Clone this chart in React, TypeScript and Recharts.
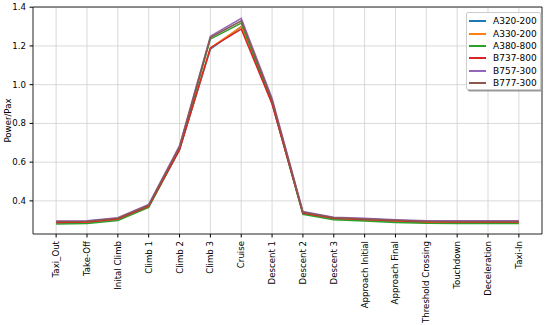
import { CartesianGrid, Line, LineChart, ReferenceArea, XAxis, YAxis } from "recharts"

const phases = [
  "Taxi_Out",
  "Take-Off",
  "Inital Climb",
  "Climb 1",
  "Climb 2",
  "Climb 3",
  "Cruise",
  "Descent 1",
  "Descent 2",
  "Descent 3",
  "Approach Initial",
  "Approach Final",
  "Threshold Crossing",
  "Touchdown",
  "Deceleration",
  "Taxi-In",
]

const a320 = [0.287, 0.289, 0.304, 0.372, 0.665, 1.183, 1.3, 0.905, 0.335, 0.307, 0.301, 0.294, 0.289, 0.288, 0.288, 0.288]
const a330 = [0.287, 0.289, 0.305, 0.373, 0.668, 1.19, 1.3, 0.91, 0.336, 0.308, 0.302, 0.295, 0.29, 0.289, 0.289, 0.289]
const a380 = [0.281, 0.283, 0.298, 0.366, 0.665, 1.235, 1.318, 0.905, 0.33, 0.302, 0.296, 0.289, 0.284, 0.283, 0.283, 0.283]
const b737 = [0.289, 0.291, 0.306, 0.373, 0.663, 1.19, 1.287, 0.9, 0.337, 0.31, 0.304, 0.297, 0.292, 0.291, 0.291, 0.291]
const b757 = [0.296, 0.298, 0.313, 0.382, 0.685, 1.25, 1.343, 0.93, 0.345, 0.316, 0.31, 0.303, 0.298, 0.297, 0.297, 0.297]
const b777 = [0.293, 0.295, 0.31, 0.378, 0.678, 1.243, 1.33, 0.92, 0.342, 0.313, 0.307, 0.3, 0.295, 0.294, 0.294, 0.294]

const yTicks = [0.4, 0.6, 0.8, 1.0, 1.2, 1.4]

const series = [
  { name: "A320-200", values: a320, color: "#1f77b4" },
  { name: "A330-200", values: a330, color: "#ff7f0e" },
  { name: "A380-800", values: a380, color: "#2ca02c" },
  { name: "B737-800", values: b737, color: "#d62728" },
  { name: "B757-300", values: b757, color: "#9467bd" },
  { name: "B777-300", values: b777, color: "#8c564b" },
]

const font = "DejaVu Sans, sans-serif"
const fs = 8.6

const chartData = phases.map((phase, i) => {
  const row: Record<string, number | string> = { idx: i, phase }
  series.forEach((s) => {
    row[s.name] = s.values[i]
  })
  return row
})

function PhaseTick(props: any) {
  const { x, y, payload } = props
  return (
    <text
      x={x}
      y={y}
      transform={`rotate(-90, ${x}, ${y})`}
      textAnchor="end"
      dominantBaseline="central"
      fontSize={fs}
      fontFamily={font}
      fill="#000"
    >
      {phases[payload.value]}
    </text>
  )
}

export default function App() {
  return (
    <div style={{ position: "absolute", left: 0, top: 0, width: 550, height: 325, background: "#fff" }}>
      <LineChart width={550} height={325} data={chartData} margin={{ top: 7, right: 8, left: 0, bottom: 0 }}>
        <CartesianGrid stroke="#cfcfcf" strokeWidth={0.8} />
        <XAxis
          dataKey="idx"
          type="number"
          domain={[-0.75, 15.75]}
          ticks={phases.map((_, i) => i)}
          interval={0}
          height={91}
          tickSize={3.5}
          tickMargin={3.5}
          tick={<PhaseTick />}
          tickLine={{ stroke: "#000" }}
          axisLine={false}
          allowDataOverflow
        />
        <YAxis
          type="number"
          domain={[0.229, 1.401]}
          ticks={yTicks}
          width={33}
          tickSize={3.5}
          tickMargin={3.5}
          tickFormatter={(v: number) => v.toFixed(1)}
          tick={{ fontSize: fs, fontFamily: font, fill: "#000" }}
          tickLine={{ stroke: "#000" }}
          axisLine={false}
          allowDataOverflow
          label={{
            value: "Power/Pax",
            angle: -90,
            position: "insideLeft",
            offset: 8,
            style: { fontSize: fs, fontFamily: font, fill: "#000", textAnchor: "middle" },
          }}
        />
        {series.map((s) => (
          <Line
            key={s.name}
            dataKey={s.name}
            stroke={s.color}
            strokeWidth={1.5}
            dot={false}
            isAnimationActive={false}
          />
        ))}
        <ReferenceArea x1={-0.75} x2={15.75} y1={0.229} y2={1.401} fill="none" stroke="#222" strokeWidth={0.9} />
      </LineChart>
      <div
        style={{
          position: "absolute",
          left: 466,
          top: 12,
          width: 75,
          height: 78,
          boxSizing: "border-box",
          background: "rgba(255,255,255,0.9)",
          border: "1px solid #cccccc",
          borderRadius: 2,
          boxShadow: "1.5px 1.5px 0 #999",
          fontFamily: font,
          fontSize: 9,
          paddingTop: 2,
        }}
      >
        {series.map((s) => (
          <div key={s.name} style={{ display: "flex", alignItems: "center", height: 12.4 }}>
            <div style={{ width: 17, height: 2, background: s.color, marginLeft: 2, marginRight: 7, flexShrink: 0 }} />
            <span style={{ lineHeight: "12px" }}>{s.name}</span>
          </div>
        ))}
      </div>
    </div>
  )
}
